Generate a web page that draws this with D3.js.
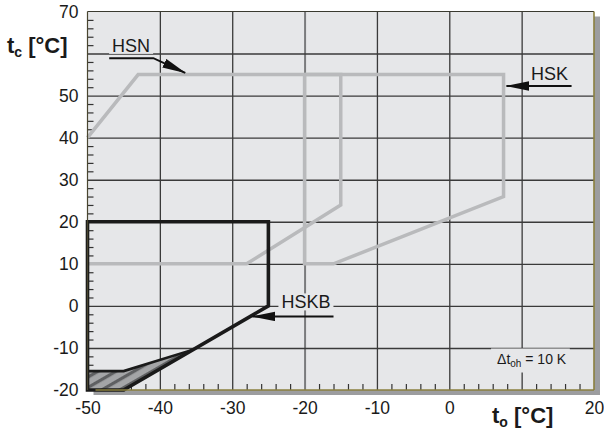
<!DOCTYPE html>
<html>
<head>
<meta charset="utf-8"/>
<title>Envelopes</title>
<script src="https://d3js.org/d3.v7.min.js"></script>
<style>
  body { margin: 0; background: #fff; }
  text { font-family: "Liberation Sans", Arial, sans-serif; fill: #1a1a1a; }
</style>
</head>
<body>
<div id="chart"></div>
<script>
// tick labels (60 and 10 are left out, the axis titles sit there)
const xLabels = [-50, -40, -30, -20, -10, 0, 20];
const yLabels = [-20, -10, 0, 10, 20, 30, 40, 50, 70];
const xGrid = [-40, -30, -20, -10, 0, 10];
const yGrid = [-10, 0, 10, 20, 30, 40, 50, 60];

// envelopes (t_o, t_c)
const hsnTo = [-50, -43, -15, -15, -28, -50];
const hsnTc = [40, 55, 55, 24, 10, 10];
const hskTo = [-20, 7.5, 7.5, -16, -20, -20];
const hskTc = [55, 55, 26, 10, 10, 55];
const hskbTo = [-50, -50, -25, -25, -45, -50];
const hskbTc = [-20, 20, 20, 0, -20, -20];
const hatchTo = [-50, -45, -35.4, -45, -50];
const hatchTc = [-15.5, -15.5, -10.4, -20, -20];

// annotations
const labelNames = ["HSN", "HSK", "HSKB"];
const labelTo = [-46.6, 11.3, -23.2];
const labelTc = [60.4, 53.7, -0.6];
const arrowTo = [[-47, -40.9, -36.5], [16.9, 7.9], [-16, -27.2]];
const arrowTc = [[58.9, 58.9, 55.4], [52.3, 52.3], [-2.5, -2.5]];

const W = 604, H = 436;
const x = d3.scaleLinear().domain([-50, 20]).range([87.5, 594]);
const y = d3.scaleLinear().domain([-20, 70]).range([390, 11.5]);
const pw = x(20) - x(-50), ph = y(-20) - y(70);
const bg = "#e6e7e9";

const svg = d3.select("#chart").append("svg").attr("width", W).attr("height", H);

const defs = svg.append("defs");
const pat = defs.append("pattern").attr("id", "hatch")
  .attr("patternUnits", "userSpaceOnUse").attr("width", 9).attr("height", 9)
  .attr("patternTransform", "rotate(-30)");
pat.append("rect").attr("width", 9).attr("height", 9).attr("fill", "#a4a5a7");
pat.append("rect").attr("width", 9).attr("height", 3.2).attr("fill", "#5f6062");
defs.append("marker").attr("id", "head")
  .attr("markerUnits", "userSpaceOnUse").attr("viewBox", "0 -5 24 10")
  .attr("markerWidth", 24).attr("markerHeight", 10)
  .attr("refX", 23).attr("refY", 0).attr("orient", "auto")
  .append("path").attr("d", "M0,-4.8L24,0L0,4.8Z").attr("fill", "#111");

// shadow + plot background
svg.append("rect").attr("x", x(-50) + 6).attr("y", y(70) + 5)
  .attr("width", pw).attr("height", ph).attr("fill", "#9c9d9f");
svg.append("rect").attr("x", x(-50)).attr("y", y(70))
  .attr("width", pw).attr("height", ph).attr("fill", bg);

// gridlines
svg.append("g").attr("transform", "translate(0," + y(-20) + ")")
  .call(d3.axisBottom(x).tickValues(xGrid).tickSize(-ph).tickFormat(""))
  .call(g => g.select(".domain").remove())
  .call(g => g.selectAll("line").attr("stroke", d => d === -20 ? "#7a7b7d" : "#3a3a3a")
    .attr("stroke-width", d => d === -20 ? 2 : 1.3));
svg.append("g").attr("transform", "translate(" + x(-50) + ",0)")
  .call(d3.axisLeft(y).tickValues(yGrid).tickSize(-pw).tickFormat(""))
  .call(g => g.select(".domain").remove())
  .call(g => g.selectAll("line").attr("stroke", "#3a3a3a").attr("stroke-width", 1.4));

// minor ticks every 2 units
const minorX = d3.range(-48, 20, 2).filter(v => v % 10 !== 0);
const minorY = d3.range(-18, 70, 2).filter(v => v % 10 !== 0);
svg.append("g").attr("transform", "translate(0," + y(-20) + ")")
  .call(d3.axisBottom(x).tickValues(minorX).tickSize(-6).tickFormat(""))
  .call(g => g.select(".domain").remove())
  .call(g => g.selectAll("line").attr("stroke", "#333").attr("stroke-width", 1.2));
svg.append("g").attr("transform", "translate(" + x(-50) + ",0)")
  .call(d3.axisLeft(y).tickValues(minorY).tickSize(-6).tickFormat(""))
  .call(g => g.select(".domain").remove())
  .call(g => g.selectAll("line").attr("stroke", "#333").attr("stroke-width", 1.2));

const line = d3.line().x(d => x(d[0])).y(d => y(d[1]));
const pts = (a, b) => a.map((v, i) => [v, b[i]]);

// gray envelopes
[[hsnTo, hsnTc], [hskTo, hskTc]].forEach(([a, b]) => {
  svg.append("path").attr("d", line(pts(a, b))).attr("fill", "none")
    .attr("stroke", "#b9babc").attr("stroke-width", 3.5).attr("stroke-linejoin", "miter");
});

// hatched area
svg.append("path").attr("d", line(pts(hatchTo, hatchTc)) + "Z")
  .attr("fill", "url(#hatch)").attr("stroke", "none");
svg.append("path").attr("d", line(pts(hatchTo.slice(0, 3), hatchTc.slice(0, 3))))
  .attr("fill", "none").attr("stroke", "#1a1a1a").attr("stroke-width", 2.6);

// HSKB envelope
svg.append("path").attr("d", line(pts(hskbTo, hskbTc)) + "Z").attr("fill", "none")
  .attr("stroke", "#1a1a1a").attr("stroke-width", 3.6).attr("stroke-linejoin", "miter");

// border
svg.append("line").attr("x1", x(-50)).attr("x2", x(20)).attr("y1", y(70)).attr("y2", y(70))
  .attr("stroke", "#3a3a30").attr("stroke-width", 1.2);
svg.append("line").attr("x1", x(-50)).attr("x2", x(-50)).attr("y1", y(70)).attr("y2", y(-20))
  .attr("stroke", "#4a4630").attr("stroke-width", 1.2);
svg.append("line").attr("x1", x(20)).attr("x2", x(20)).attr("y1", y(70)).attr("y2", y(-20))
  .attr("stroke", "#8a7f3e").attr("stroke-width", 1.6);
svg.append("line").attr("x1", x(-50) + 8).attr("x2", x(20)).attr("y1", y(-20)).attr("y2", y(-20))
  .attr("stroke", "#8a7f3e").attr("stroke-width", 1.6);

// labels with background boxes
const lab = svg.append("g");
labelNames.forEach((n, i) => {
  const t = lab.append("text").attr("x", x(labelTo[i])).attr("y", y(labelTc[i]))
    .attr("font-size", 18).text(n);
  if (n !== "HSK") {
    const b = t.node().getBBox();
    lab.insert("rect", "text").attr("x", b.x - 3).attr("y", b.y + 1)
      .attr("width", b.width + 6).attr("height", b.height - 3).attr("fill", bg);
  }
  svg.append("path").attr("d", line(pts(arrowTo[i], arrowTc[i])))
    .attr("fill", "none").attr("stroke", "#111").attr("stroke-width", 2)
    .attr("marker-end", "url(#head)");
});

// delta t label
const dt = svg.append("text").attr("x", x(6.6)).attr("y", y(-13.7)).attr("font-size", 14);
dt.append("tspan").text("\u0394t");
dt.append("tspan").attr("font-size", 10).attr("dy", 3).text("oh");
dt.append("tspan").attr("dy", -3).text(" = 10 K");
const db = dt.node().getBBox();
svg.insert("rect", () => dt.node()).attr("x", db.x - 6).attr("y", db.y - 2)
  .attr("width", db.width + 9).attr("height", db.height + 6).attr("fill", bg);

// tick labels
svg.append("g").attr("transform", "translate(0," + y(-20) + ")")
  .call(d3.axisBottom(x).tickValues(xLabels).tickSize(0).tickPadding(12).tickFormat(d => String(d)))
  .call(g => g.select(".domain").remove())
  .call(g => g.selectAll("text").attr("font-size", 17.5).attr("fill", "#1a1a1a")
    .attr("font-family", "Liberation Sans, Arial, sans-serif"));
svg.append("g").attr("transform", "translate(" + x(-50) + ",0)")
  .call(d3.axisLeft(y).tickValues(yLabels).tickSize(0).tickPadding(9).tickFormat(d => String(d)))
  .call(g => g.select(".domain").remove())
  .call(g => g.selectAll("text").attr("font-size", 17.5).attr("fill", "#1a1a1a")
    .attr("font-family", "Liberation Sans, Arial, sans-serif"));

// axis titles
const yt = svg.append("text").attr("x", 7).attr("y", 53).attr("font-size", 22).attr("font-weight", "bold");
yt.append("tspan").text("t");
yt.append("tspan").attr("font-size", 14).attr("dy", 4).text("c");
yt.append("tspan").attr("dy", -4).text(" [\u00b0C]");
const xt = svg.append("text").attr("x", 492).attr("y", 423).attr("font-size", 22).attr("font-weight", "bold");
xt.append("tspan").text("t");
xt.append("tspan").attr("font-size", 14).attr("dy", 4).text("o");
xt.append("tspan").attr("dy", -4).text(" [\u00b0C]");
</script>
</body>
</html>
